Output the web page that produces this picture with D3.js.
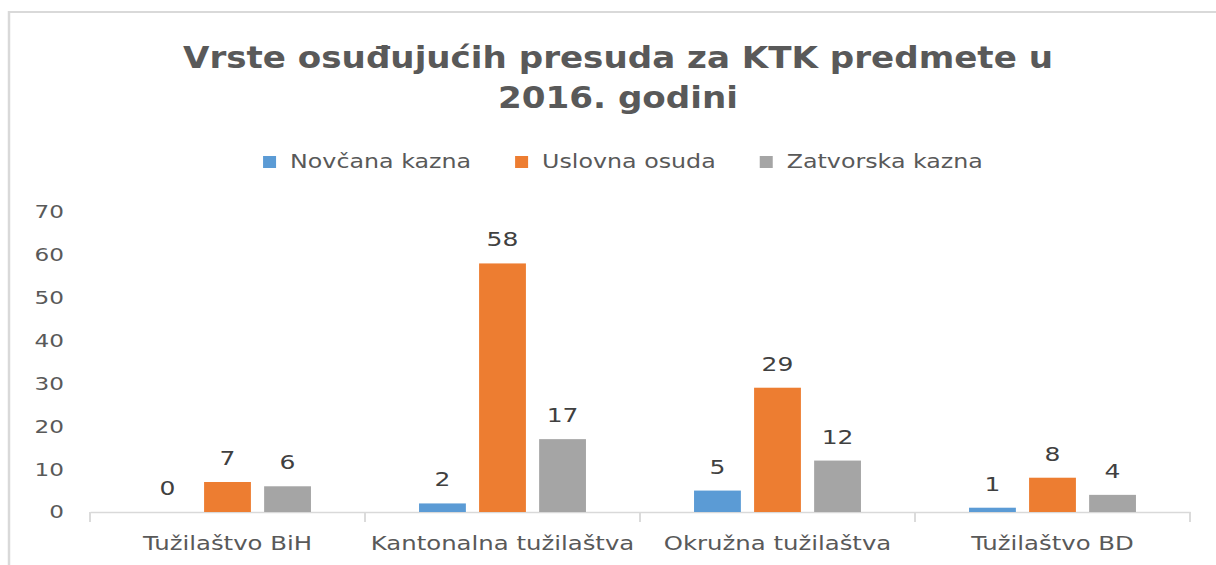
<!DOCTYPE html>
<html>
<head>
<meta charset="utf-8">
<script src="https://cdn.jsdelivr.net/npm/d3@7"></script>
<style>
  body { margin: 0; background: #fff; }
  svg { display: block; }
</style>
</head>
<body>
<div id="chart"></div>
<script>
var titleLines = ['Vrste osuđujućih presuda za KTK predmete u', '2016. godini'];
var categories = ['Tužilaštvo BiH', 'Kantonalna tužilaštva', 'Okružna tužilaštva', 'Tužilaštvo BD'];
var seriesNames = ['Novčana kazna', 'Uslovna osuda', 'Zatvorska kazna'];
var novcana = [0, 2, 5, 1];
var uslovna = [7, 58, 29, 8];
var zatvorska = [6, 17, 12, 4];
var yTicks = [0, 10, 20, 30, 40, 50, 60, 70];
var colors = ['#5b9bd5', '#ed7d31', '#a5a5a5'];

var chart = (function() {

  // the source picture is stretched sideways, so the whole svg is too
  var config = {
    width: 1216,
    height: 565,
    sx: 1.25,
    left: 90,
    right: 1190,
    top: 212,
    bottom: 512,
    font: '"DejaVu Sans", sans-serif'
  };
  var svg, x0, x1, y;

  function init() {
    setup();
    drawFrame();
    drawTitle();
    drawLegend();
    drawAxes();
    drawBars();
  }

  function setup() {
    svg = d3.select('#chart').append('svg')
      .attr('width', config.width)
      .attr('height', config.height)
      .attr('viewBox', '0 0 ' + (config.width / config.sx) + ' ' + config.height)
      .attr('preserveAspectRatio', 'none')
      .style('font-family', config.font);

    x0 = d3.scaleBand()
      .domain(categories)
      .range([config.left / config.sx, config.right / config.sx]);

    x1 = d3.scaleBand()
      .domain(seriesNames)
      .range([0, x0.bandwidth()])
      .paddingInner(0.22)
      .paddingOuter(0.9);

    y = d3.scaleLinear()
      .domain([0, 70])
      .range([config.bottom, config.top]);
  }

  function drawFrame() {
    var vw = config.width / config.sx;
    svg.append('rect').attr('width', vw).attr('height', config.height).attr('fill', '#fff');
    svg.append('line')
      .attr('x1', 9 / config.sx).attr('x2', vw)
      .attr('y1', 12).attr('y2', 12)
      .attr('stroke', '#d9d9d9').attr('stroke-width', 2);
    svg.append('line')
      .attr('x1', 9 / config.sx).attr('x2', 9 / config.sx)
      .attr('y1', 11).attr('y2', config.height)
      .attr('stroke', '#d9d9d9').attr('stroke-width', 2);
  }

  function drawTitle() {
    var widths = [870, 240];
    svg.append('g').selectAll('text').data(titleLines).enter().append('text')
      .attr('x', 618 / config.sx)
      .attr('y', function(d, i) { return 68 + i * 40; })
      .attr('text-anchor', 'middle')
      .attr('font-size', 31)
      .attr('font-weight', 'bold')
      .attr('fill', '#595959')
      .attr('textLength', function(d, i) { return widths[i] / config.sx; })
      .attr('lengthAdjust', 'spacingAndGlyphs')
      .text(function(d) { return d; });
  }

  function drawLegend() {
    var sq = 13 / config.sx, gap = 14 / config.sx, spacing = 44 / config.sx;
    var legend = svg.append('g');
    var items = legend.selectAll('g').data(seriesNames).enter().append('g');

    items.append('rect')
      .attr('y', 156)
      .attr('width', sq)
      .attr('height', 12)
      .attr('fill', function(d, i) { return colors[i]; });

    items.append('text')
      .attr('x', sq + gap)
      .attr('y', 168)
      .attr('font-size', 19)
      .attr('fill', '#595959')
      .text(function(d) { return d; });

    var pos = 0;
    items.each(function() {
      var w = this.querySelector('text').getComputedTextLength();
      d3.select(this).attr('transform', 'translate(' + pos + ',0)');
      pos += sq + gap + w + spacing;
    });
    var total = pos - spacing;
    legend.attr('transform', 'translate(' + (623 / config.sx - total / 2) + ',0)');
  }

  function drawAxes() {
    var yAxis = svg.append('g')
      .attr('transform', 'translate(' + (config.left / config.sx) + ',0)')
      .call(d3.axisLeft(y).tickValues(yTicks).tickSize(0).tickPadding(26 / config.sx));
    yAxis.select('.domain').remove();
    yAxis.selectAll('text')
      .attr('font-size', 18.5)
      .attr('font-family', config.font)
      .attr('fill', '#595959');

    var xAxis = svg.append('g')
      .attr('transform', 'translate(0,' + config.bottom + ')')
      .call(d3.axisBottom(x0).tickSize(0).tickSizeOuter(0).tickPadding(24));
    xAxis.select('.domain').attr('stroke', '#d9d9d9').attr('stroke-width', 1.5);
    xAxis.selectAll('text')
      .attr('font-size', 19.5)
      .attr('font-family', config.font)
      .attr('fill', '#595959');

    // tick marks sit between the categories
    xAxis.selectAll('line.sep').data(d3.range(categories.length + 1)).enter().append('line')
      .attr('class', 'sep')
      .attr('x1', function(d) { return x0.range()[0] + d * x0.step(); })
      .attr('x2', function(d) { return x0.range()[0] + d * x0.step(); })
      .attr('y1', 0).attr('y2', 10)
      .attr('stroke', '#d9d9d9').attr('stroke-width', 1.5);
  }

  function drawBars() {
    var rows = categories.map(function(c, i) {
      return { cat: c, values: [novcana[i], uslovna[i], zatvorska[i]] };
    });

    var groups = svg.append('g').selectAll('g').data(rows).enter().append('g')
      .attr('transform', function(d) { return 'translate(' + x0(d.cat) + ',0)'; });

    var cells = function(d) {
      return d.values.map(function(v, i) { return { name: seriesNames[i], value: v, idx: i }; });
    };

    groups.selectAll('rect').data(cells).enter().append('rect')
      .attr('x', function(d) { return x1(d.name); })
      .attr('y', function(d) { return y(d.value); })
      .attr('width', x1.bandwidth())
      .attr('height', function(d) { return y(0) - y(d.value); })
      .attr('fill', function(d) { return colors[d.idx]; });

    groups.selectAll('text').data(cells).enter().append('text')
      .attr('x', function(d) { return x1(d.name) + x1.bandwidth() / 2; })
      .attr('y', function(d) { return y(d.value) - 17; })
      .attr('text-anchor', 'middle')
      .attr('font-size', 20)
      .attr('fill', '#404040')
      .text(function(d) { return d.value; });
  }

  return {
    init: init
  };

})();

(function() {
  chart.init();
})();
</script>
</body>
</html>
